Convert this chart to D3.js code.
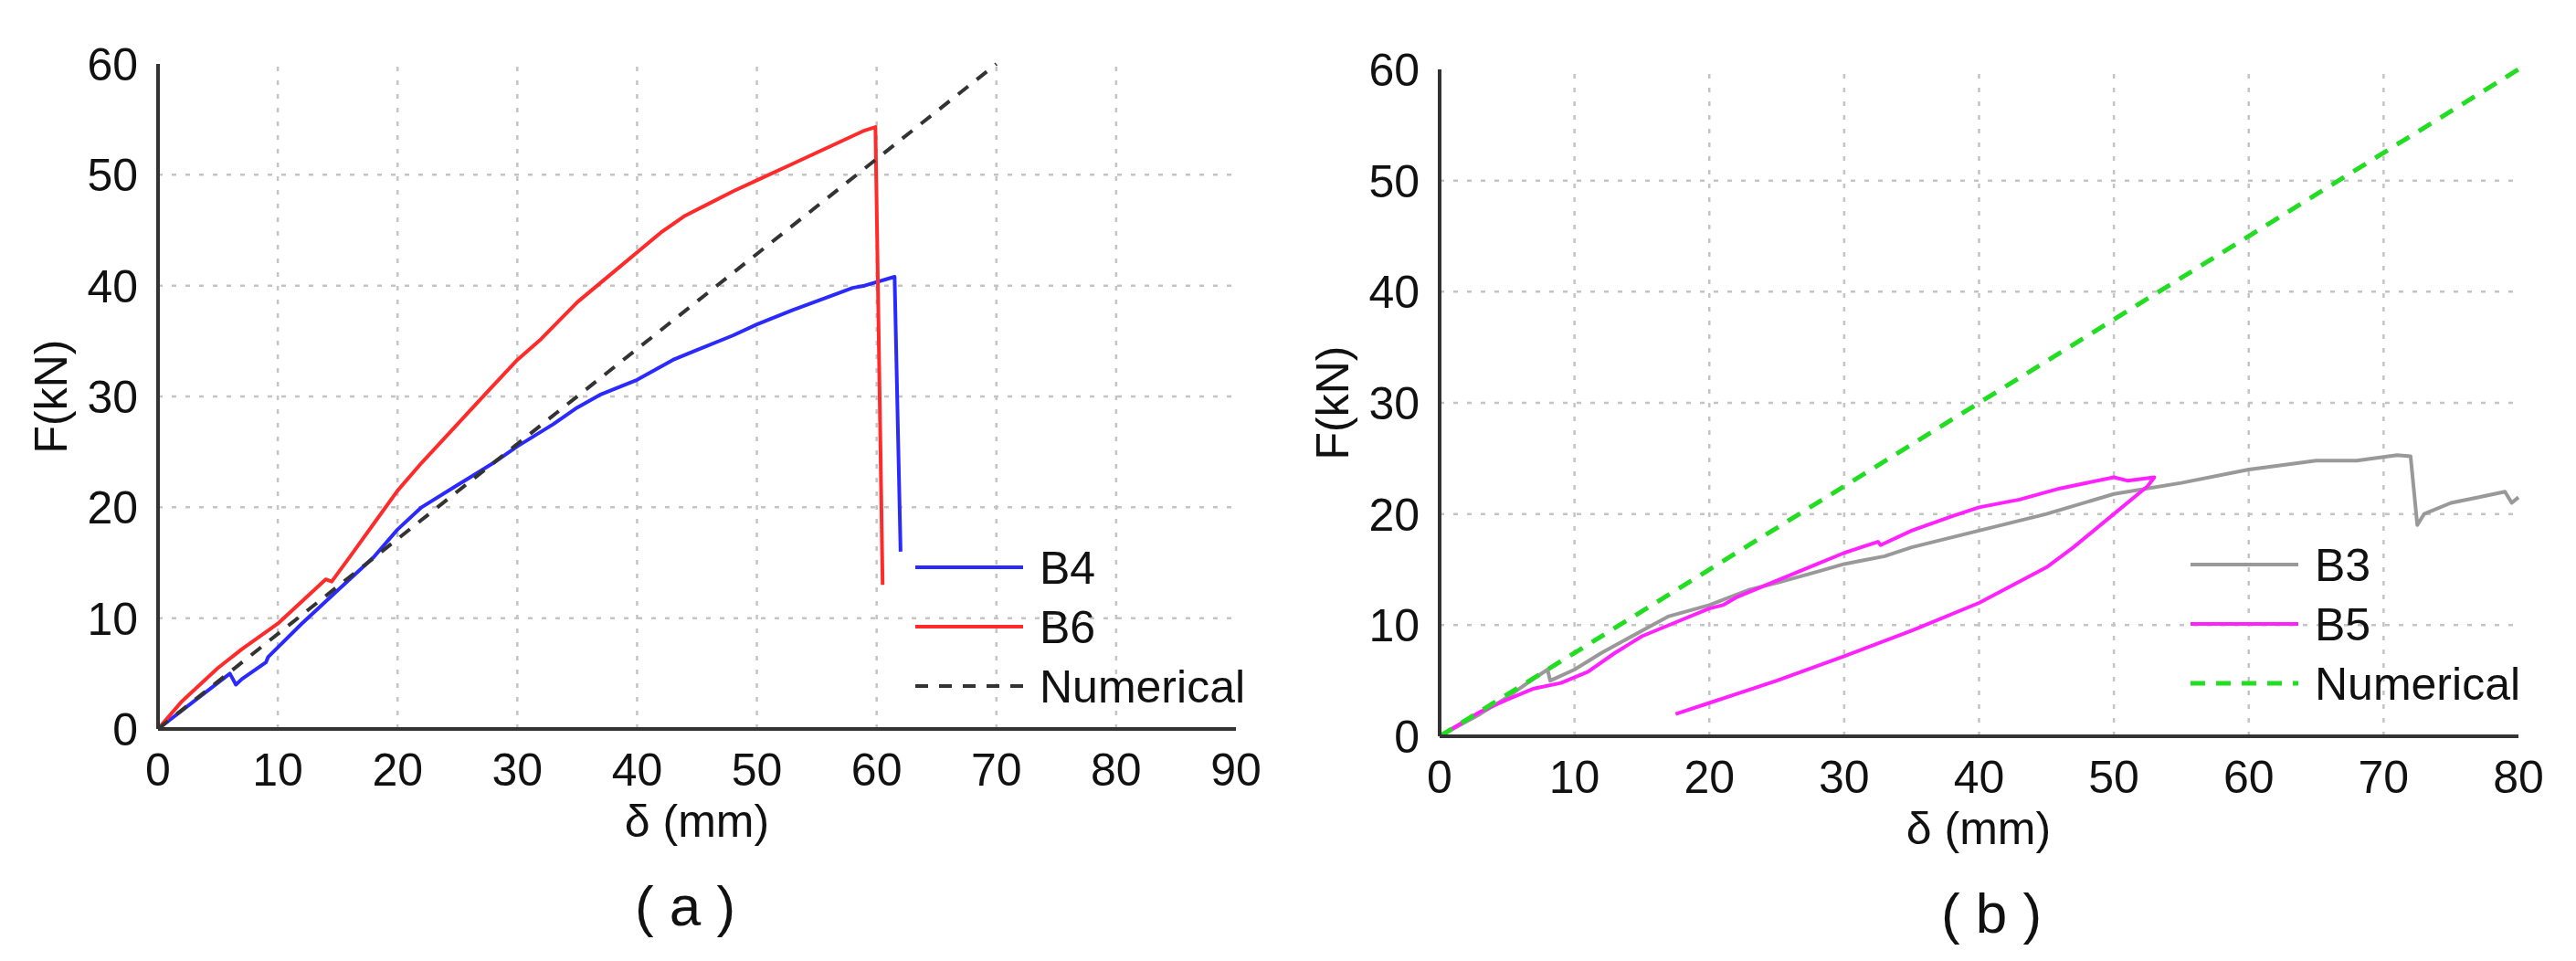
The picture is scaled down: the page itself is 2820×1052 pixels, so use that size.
<!DOCTYPE html>
<html><head><meta charset="utf-8">
<script src="https://cdn.jsdelivr.net/npm/d3@7"></script>
<style>body{margin:0;background:#fff}svg{display:block}text{font-family:"Liberation Sans",Arial,sans-serif;fill:#111}</style>
</head><body><svg id="c" width="2820" height="1052"></svg>
<script>
const xTicksA=[0,10,20,30,40,50,60,70,80,90];
const xTicksB=[0,10,20,30,40,50,60,70,80];
const yTicks=[0,10,20,30,40,50,60];
const B6=[[0,0],[2,2.5],[5,5.5],[7,7.2],[10,9.5],[12,11.5],[14,13.5],[14.5,13.3],[16,15.5],[18,18.5],[20,21.5],[22,24],[25,27.5],[28,31],[30,33.3],[32,35.2],[35,38.5],[38,41.2],[40,43],[42,44.8],[44,46.3],[46,47.4],[48,48.5],[50,49.5],[53,51],[56,52.5],[59,54],[59.9,54.3],[60.5,13]];
const B4=[[0,0],[3,2.5],[6,5],[6.5,4.0],[7,4.5],[9,6],[9.2,6.5],[12,9.5],[15,12.5],[18,15.5],[20,18],[22,20],[25,22],[28,24],[30,25.5],[33,27.5],[35,29],[37,30.2],[40,31.5],[43,33.3],[45,34.2],[48,35.5],[50,36.5],[53,37.8],[56,39],[58,39.8],[59,40],[61.5,40.8],[62,16]];
const NumA=[[0,0],[70,60]];
const B3=[[0,0],[3,2],[5,3.5],[7,5.2],[8,6],[8.2,5.0],[10,6],[12,7.5],[15,9.5],[17,10.8],[20,11.8],[23,13.2],[25,13.8],[28,14.8],[30,15.5],[33,16.2],[35,17],[40,18.5],[45,20],[50,21.8],[55,22.8],[60,24],[65,24.8],[68,24.8],[71,25.3],[72,25.2],[72.5,19],[73,20],[75,21],[77,21.5],[79,22],[79.5,21],[80,21.5]];
const B5=[[0,0],[3,2.2],[5,3.3],[7,4.3],[9,4.8],[11,5.8],[13,7.5],[15,9],[18,10.5],[20,11.5],[21,11.8],[22,12.5],[25,14],[28,15.5],[30,16.5],[32.5,17.5],[32.7,17.2],[35,18.5],[38,19.8],[40,20.6],[43,21.3],[46,22.3],[50,23.3],[51,23],[53,23.3],[52.5,22.5],[50,20],[47,17],[45,15.2],[40,12],[35,9.5],[30,7.2],[25,5],[20,3],[17.5,2]];
const NumB=[[0,0],[80,60]];

const svg=d3.select("#c");
function panel(o){
  const x=d3.scaleLinear().domain([0,o.xmax]).range([o.x0,o.x1]);
  const y=d3.scaleLinear().domain([0,60]).range([o.y0,o.y1]);
  const g=svg.append("g");
  g.selectAll(".gv").data(o.xt.slice(1,-1)).join("line").attr("x1",x).attr("x2",x).attr("y1",o.y0).attr("y2",o.y1)
   .attr("stroke","#c4c4c4").attr("stroke-width",2.5).attr("stroke-dasharray","5,10");
  g.selectAll(".gh").data(yTicks.slice(1,-1)).join("line").attr("y1",y).attr("y2",y).attr("x1",o.x0).attr("x2",o.x1)
   .attr("stroke","#c4c4c4").attr("stroke-width",2.5).attr("stroke-dasharray","5,10");
  const line=d3.line().x(d=>x(d[0])).y(d=>y(d[1]));
  o.series.forEach(s=>g.append("path").attr("d",line(s.d)).attr("fill","none").attr("stroke",s.c)
    .attr("stroke-width",s.w||4).attr("stroke-dasharray",s.dash||null).attr("stroke-linejoin","round"));
  g.append("line").attr("x1",o.x0).attr("x2",o.x0).attr("y1",o.y0).attr("y2",o.y1).attr("stroke","#333").attr("stroke-width",4);
  g.append("line").attr("x1",o.x0).attr("x2",o.x1).attr("y1",o.y0).attr("y2",o.y0).attr("stroke","#333").attr("stroke-width",4);
  g.selectAll(".xl").data(o.xt).join("text").attr("x",x).attr("y",o.y0+62).attr("text-anchor","middle").attr("font-size",50).text(d=>d);
  g.selectAll(".yl").data(yTicks).join("text").attr("x",o.x0-22).attr("y",d=>y(d)+18).attr("text-anchor","end").attr("font-size",50).text(d=>d);
  g.append("text").attr("transform",`translate(${o.x0-100},${(o.y0+o.y1)/2}) rotate(-90)`).attr("text-anchor","middle").attr("font-size",50).text("F(kN)");
  g.append("text").attr("x",o.tx).attr("y",o.y0+118).attr("text-anchor","middle").attr("font-size",50).text("δ (mm)");
  g.append("text").attr("x",o.cx).attr("y",o.y0+215).attr("text-anchor","middle").attr("font-size",62).text(o.cap);
  o.series.forEach((s,i)=>{
    const ly=o.ly+i*65;
    g.append("line").attr("x1",o.lx).attr("x2",o.lx+118).attr("y1",ly).attr("y2",ly).attr("stroke",s.c).attr("stroke-width",s.w||4).attr("stroke-dasharray",s.dash||null);
    g.append("text").attr("x",o.lx+136).attr("y",ly+18).attr("font-size",50).text(s.n);
  });
}
panel({x0:173,x1:1353,y0:798,y1:70,xmax:90,xt:xTicksA,tx:763,cx:750,cap:"( a )",lx:1002,ly:621,
  series:[{n:"B4",d:B4,c:"#2a2aff"},{n:"B6",d:B6,c:"#ff2a2a"},{n:"Numerical",d:NumA,c:"#333",dash:"14,12"}]});
panel({x0:1576,x1:2757,y0:806,y1:76,xmax:80,xt:xTicksB,tx:2166,cx:2180,cap:"( b )",lx:2398,ly:618,
  series:[{n:"B3",d:B3,c:"#999"},{n:"B5",d:B5,c:"#ff22ff"},{n:"Numerical",d:NumB,c:"#22dd22",dash:"16,12",w:5}]});
</script></body></html>
